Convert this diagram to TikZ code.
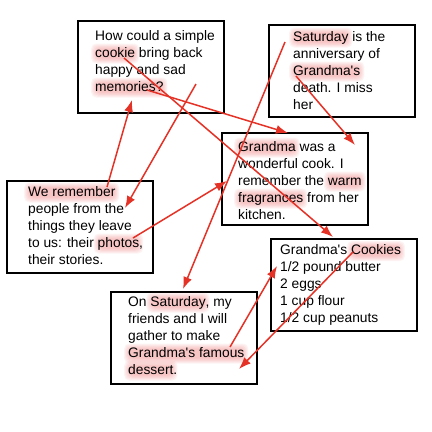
\documentclass[tikz,border=0pt]{standalone}
\usepackage{fontspec}
\newfontfamily\notefont{Liberation Sans}
\usetikzlibrary{arrows.meta,calc}
\definecolor{linkred}{RGB}{228,50,38}
\definecolor{glowpink}{RGB}{238,120,120}
\tikzset{
  card/.style={
    rectangle,
    draw=black, line width=2pt,
    minimum width=146pt, minimum height=92pt,
    anchor=north west, inner sep=0pt},
  cardtext/.style={
    anchor=base west, align=left, inner sep=0pt,
    font=\notefont\fontsize{13.8}{17}\selectfont},
  link/.style={draw=linkred, line width=1.5pt, -{Latex[length=12pt,width=9pt]}},
  glowlayer/.style={fill=glowpink, fill opacity=0.09, rounded corners=5pt},
}
\newsavebox\glowbox
\newcommand\glow[1]{%
  \sbox\glowbox{#1}\edef\glowwd{\the\wd\glowbox}%
  \rlap{\tikz[overlay,baseline=0pt]{%
    \foreach \gs in {-1pt,0pt,1pt,2pt,3pt,4pt}
      \fill[glowlayer] (-\gs,-2.5pt-\gs) rectangle (\glowwd+\gs,9.5pt+\gs);}}%
  \usebox\glowbox}

\begin{document}
\begin{tikzpicture}[x=1pt,y=-1pt]
\useasboundingbox (0,0) rectangle (432,432);

\node[card] at (77,20) (boxA) {};
\node[card] at (268,24) (boxB) {};
\node[card] at (221,132) (boxC) {};
\node[card] at (6,180) (boxD) {};
\node[card] at (270,238) (boxE) {};
\node[card] at (110,291) (boxF) {};

% base west sits on the last line
\node[cardtext] at ($(boxA.north west)+(18,71)$) (textA) {How could a simple\\\glow{cookie} bring back\\happy and sad\\\glow{memories?}};
\node[cardtext] at ($(boxB.north west)+(25,85)$) (textB) {\glow{Saturday} is the\\anniversary of\\\glow{Grandma's}\\death. I miss\\her};
\node[cardtext] at ($(boxC.north west)+(17,87)$) (textC) {\glow{Grandma} was a\\wonderful cook. I\\remember the \glow{warm}\\\glow{fragrances} from her\\kitchen.};
\node[cardtext] at ($(boxD.north west)+(22,84)$) (textD) {\glow{We remember}\\people from the\\things they leave\\to us: their \glow{photos},\\their stories.};
\node[cardtext] at ($(boxE.north west)+(10,84.5)$) (textE) {Grandma's \glow{Cookies}\\1/2 pound butter\\2 eggs\\1 cup flour\\1/2 cup peanuts};
\node[cardtext] at ($(boxF.north west)+(18,83)$) (textF) {On \glow{Saturday}, my\\friends and I will\\gather to make\\\glow{Grandma's famous}\\\glow{dessert}.};

% where the links start
\coordinate (cookieword) at (124,58);
\coordinate (memword) at (147,90);
\coordinate (sadword) at (196,84);
\coordinate (weword) at (107,187);
\coordinate (photoword) at (133,238);
\coordinate (satword) at (285,42);
\coordinate (grandword) at (296,76);
\coordinate (famousword) at (230,347);
\coordinate (cookiesword) at (353,252);

% where they land
\coordinate (cardAin) at ($(boxA.north west)+(55,80)$);
\coordinate (cardCtop) at ($(boxC.north west)+(67,1)$);
\coordinate (cardCin) at ($(boxC.north west)+(134,13)$);
\coordinate (cardCleft) at ($(boxC.north west)+(6,49)$);
\coordinate (peoplein) at ($(boxD.north west)+(119,28)$);
\coordinate (cookiesin) at ($(boxE.north west)+(63,-1)$);
\coordinate (butterin) at ($(boxE.north west)+(7,28)$);
\coordinate (cardFtop) at ($(boxF.north west)+(73,-2)$);
\coordinate (dessertin) at ($(boxF.north west)+(129,78)$);

\draw[link] (cookieword) -- (cookiesin);
\draw[link] (memword) -- (cardCtop);
\draw[link] (sadword) -- (peoplein);
\draw[link] (weword) -- (cardAin);
\draw[link] (photoword) -- (cardCleft);
\draw[link] (satword) -- (cardFtop);
\draw[link] (grandword) -- (cardCin);
\draw[link] (famousword) -- (butterin);
\draw[link] (cookiesword) -- (dessertin);
\end{tikzpicture}
\end{document}
